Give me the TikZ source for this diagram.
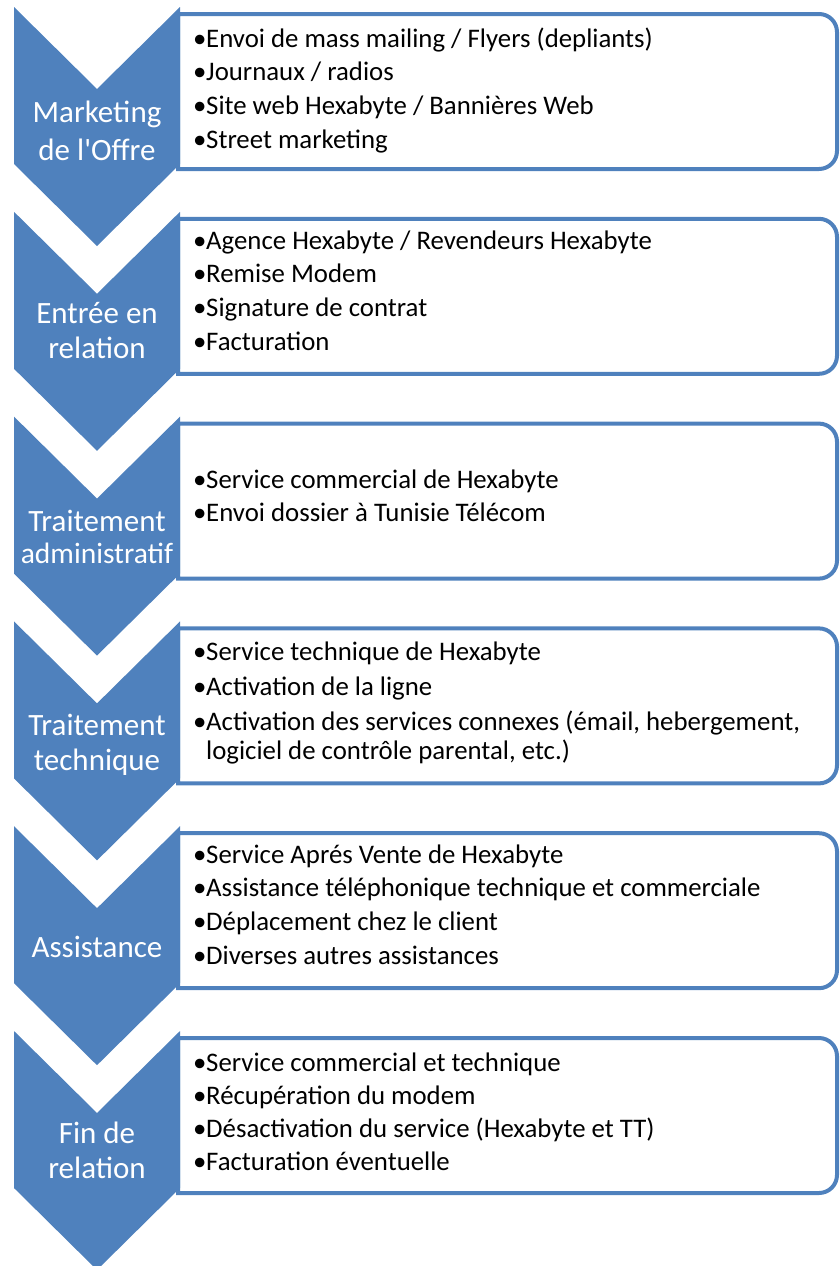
\documentclass[tikz,border=0pt]{standalone}
\usepackage{fontspec}
\setmainfont{Carlito}
\usetikzlibrary{positioning}
\definecolor{sblue}{RGB}{79,129,189}
\tikzset{chev/.style = {fill = sblue},
  frame/.style = {draw = sblue, line width = 4, fill = white},
  lbl/.style = {text = white, font = \fontsize{31}{36}\selectfont, inner sep = 0, anchor = base},
  itm/.style = {font = \fontsize{26.8}{29}\selectfont, inner sep = 0, anchor = base west}}
\newcommand{\dotb}{\makebox[13pt][l]{•}}

\begin{document}
\begin{tikzpicture}[x = 1pt, y = -1pt]
  \useasboundingbox (0, 0) rectangle (840, 1266);
  % frames first, chevrons on top
  \foreach \k in {0,...,5} {
    \pgfmathsetmacro\Y{7 + 204.8*\k}
    \draw [frame] (178, \Y + 7) -- (819, \Y + 7) arc [start angle = -90, end angle = 0, radius = 18]
      -- (837, \Y + 144) arc [start angle = 0, end angle = 90, radius = 18] -- (178, \Y + 162) -- cycle;
    \fill [chev] (14, \Y) -- (97, \Y + 82) -- (180, \Y) -- (180, \Y + 157)
      -- (97, \Y + 239) -- (14, \Y + 157) -- cycle;
  }
  % chevron labels
  \node [lbl] (mk1) at (97, 122) {Marketing};
  \node [lbl] (mk2) at (97, 160) {de l\textquotesingle Offre};
  \node [lbl] (er1) at (97, 323) {Entrée en};
  \node [lbl] (er2) at (97, 358) {relation};
  \node [lbl] (ta1) at (97, 531) {Traitement};
  \node [lbl, font = \fontsize{29.5}{36}\selectfont] (ta2) at (97, 563) {administratif};
  \node [lbl] (tt1) at (97, 735) {Traitement};
  \node [lbl] (tt2) at (97, 770) {technique};
  \node [lbl] (as1) at (97, 957) {Assistance};
  \node [lbl] (fr1) at (97, 1143) {Fin de};
  \node [lbl] (fr2) at (97, 1178) {relation};
  % items
  \foreach \t [count = \i] in {Envoi de mass mailing / Flyers (depliants), Journaux / radios,
      Site web Hexabyte / Bannières Web, Street marketing} {
    \node [itm] (mk-\i) at (193, {47 + 33.8*(\i - 1)}) {\dotb\t};
  }
  \foreach \t [count = \i] in {Agence Hexabyte / Revendeurs Hexabyte, Remise Modem,
      Signature de contrat, Facturation} {
    \node [itm] (er-\i) at (193, {249 + 33.8*(\i - 1)}) {\dotb\t};
  }
  \foreach \t [count = \i] in {Service commercial de Hexabyte, Envoi dossier à Tunisie Télécom} {
    \node [itm] (ta-\i) at (193, {488 + 33.8*(\i - 1)}) {\dotb\t};
  }
  \foreach \t [count = \i] in {Service technique de Hexabyte, Activation de la ligne,
      {Activation des services connexes (émail, hebergement,}} {
    \node [itm] (tt-\i) at (193, {660 + 35.3*(\i - 1)}) {\dotb\t};
  }
  \node [itm] (tt-4) at (206, 759) {logiciel de contrôle parental, etc.)};
  \foreach \t [count = \i] in {Service Aprés Vente de Hexabyte,
      Assistance téléphonique technique et commerciale,
      Déplacement chez le client, Diverses autres assistances} {
    \node [itm] (as-\i) at (193, {863 + 33.8*(\i - 1)}) {\dotb\t};
  }
  \foreach \t [count = \i] in {Service commercial et technique, Récupération du modem,
      Désactivation du service (Hexabyte et TT), Facturation éventuelle} {
    \node [itm] (fr-\i) at (193, {1071 + 33*(\i - 1)}) {\dotb\t};
  }
\end{tikzpicture}
\end{document}
